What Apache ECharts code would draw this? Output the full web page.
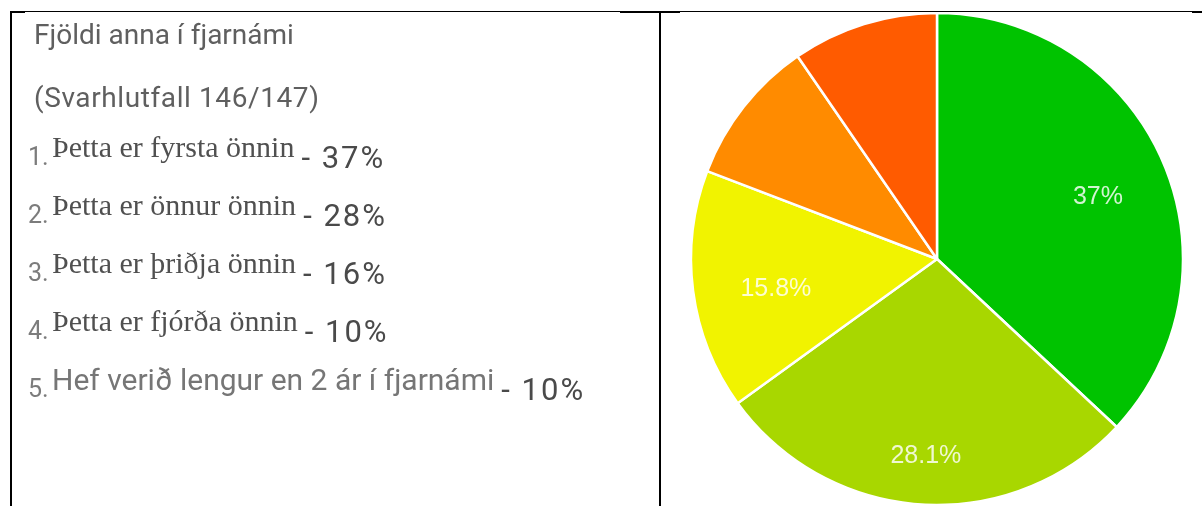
<!DOCTYPE html>
<html>
<head>
<meta charset="utf-8">
<script src="https://cdn.jsdelivr.net/npm/echarts@6/dist/echarts.min.js"></script>
<style>
  html, body { margin: 0; padding: 0; background: #fff; }
  .wrapper { position: relative; width: 1202px; height: 506px; overflow: hidden; }
  .chart { position: absolute; left: 0; top: 0; width: 1202px; height: 506px; }
  .line { position: absolute; background: #000; }
  .t { position: absolute; line-height: 1; white-space: nowrap; }
  .title { left: 34px; top: 21px; font-family: Roboto, sans-serif; font-size: 28px; color: #5f5f5f; }
  .sub { left: 34px; top: 84px; font-family: Roboto, sans-serif; font-size: 28px; color: #5f5f5f; letter-spacing: 0.6px; }
  .num { font-family: Roboto, sans-serif; font-size: 25px; color: #7c7c7c; }
  .txt { font-family: "Liberation Serif", serif; font-size: 30px; color: #505050; }
  .txt.sans { font-family: Roboto, sans-serif; font-size: 30px; color: #767676; }
  .pct { font-family: Roboto, sans-serif; font-size: 31px; color: #4a4a4a; letter-spacing: 2px; }
</style>
</head>
<body>
<div class="wrapper">
  <div class="chart" id="chart"></div>
  <div class="line" style="left:10px;top:11px;width:1192px;height:1px"></div>
  <div class="line" style="left:10px;top:11px;width:15px;height:2px"></div>
  <div class="line" style="left:620px;top:11px;width:60px;height:2px"></div>
  <div class="line" style="left:1192px;top:11px;width:10px;height:2px"></div>
  <div class="line" style="left:10px;top:11px;width:2px;height:495px"></div>
  <div class="line" style="left:659px;top:11px;width:2px;height:495px"></div>
  <div class="t title">Fjöldi anna í fjarnámi</div>
  <div class="t sub">(Svarhlutfall 146/147)</div>
  <div id="rows"></div>
</div>
<script>
// svör úr könnuninni
const categories = [
  'Þetta er fyrsta önnin',
  'Þetta er önnur önnin',
  'Þetta er þriðja önnin',
  'Þetta er fjórða önnin',
  'Hef verið lengur en 2 ár í fjarnámi'
];
const shares = [37, 28.1, 15.8, 9.6, 9.6];
const legendPct = ['37%', '28%', '16%', '10%', '10%'];
const pieLabels = ['37%', '28.1%', '15.8%', '', ''];
const colors = ['#00c300', '#a8d700', '#f1f300', '#ff8b00', '#ff5b00'];

// listinn vinstra megin
const rowsEl = document.getElementById('rows');
categories.forEach((c, i) => {
  const y = i * 58;
  const num = document.createElement('div');
  num.className = 't num';
  num.style.left = '28px';
  num.style.top = (144 + y) + 'px';
  num.textContent = (i + 1) + '.';
  rowsEl.appendChild(num);

  const txt = document.createElement('div');
  txt.className = 't txt' + (i === 4 ? ' sans' : '');
  txt.style.left = '52px';
  txt.style.top = (i === 4 ? 133 : 132) + y + 'px';
  txt.textContent = c;
  rowsEl.appendChild(txt);

  const w = txt.getBoundingClientRect().width;
  const p = document.createElement('div');
  p.className = 't pct';
  p.style.left = (52 + w + 7) + 'px';
  p.style.top = (142 + y) + 'px';
  p.textContent = '- ' + legendPct[i];
  rowsEl.appendChild(p);
});

const chart = echarts.init(document.getElementById('chart'));
const R = 246;
// smá tilfærsla á merkjunum svo þau sitji eins og í upprunalegu myndinni
const labelShift = [[-2, 9], [0, 20], [15, 7], [0, 0], [0, 0]];
chart.setOption({
  animation: false,
  series: [
    {
      type: 'pie',
      center: [937, 259],
      radius: [0, R],
      startAngle: 90,
      clockwise: true,
      data: shares.map((v, i) => ({ value: v, name: categories[i], itemStyle: { color: colors[i] } })),
      label: { show: false },
      labelLine: { show: false },
      itemStyle: { borderColor: '#fff', borderWidth: 2.5 },
      emphasis: { disabled: true }
    },
    {
      // ósýnilegur hringur bara til að færa merkin utar
      type: 'pie',
      center: [937, 259],
      radius: [R * 0.42, R],
      startAngle: 90,
      silent: true,
      data: shares.map((v, i) => ({ value: v, name: categories[i] })),
      itemStyle: { color: 'rgba(0,0,0,0)' },
      label: {
        show: true,
        position: 'inside',
        formatter: p => pieLabels[p.dataIndex],
        color: 'rgba(255,255,255,0.82)',
        fontFamily: 'Liberation Sans, Arial, sans-serif',
        fontSize: 25
      },
      labelLayout: p => ({ dx: labelShift[p.dataIndex][0], dy: labelShift[p.dataIndex][1] }),
      labelLine: { show: false }
    }
  ]
});
</script>
</body>
</html>
